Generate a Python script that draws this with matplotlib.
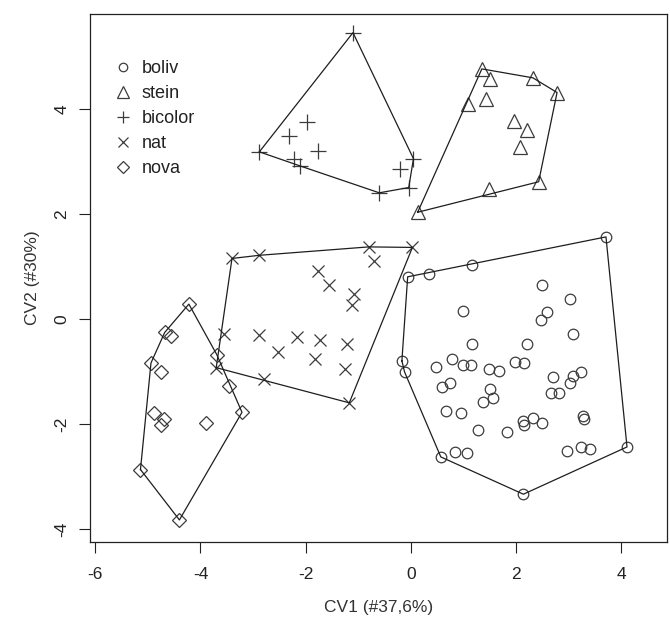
import numpy as np
import matplotlib
matplotlib.use("Agg")
from matplotlib import pyplot as plt

plt.rcParams['font.family'] = ['Liberation Sans', 'DejaVu Sans']
plt.rcParams['axes.unicode_minus'] = False

# canonical variate scores
boliv_x = [3.71, -0.06, 0.34, 1.17, 2.49, 3.02, 1.00, 2.59, 2.48, 3.09, 1.17, 2.21, -0.17,
           -0.12, 0.78, 0.48, 1.00, 1.14, 1.49, 1.68, 1.98, 2.16, 2.71, 3.09, 3.23, 3.02,
           0.59, 0.75, 1.51, 1.56, 1.37, 2.67, 2.81, 0.67, 0.96, 1.28, 1.83, 2.13, 2.16,
           2.33, 2.50, 3.28, 3.30, 0.57, 0.84, 1.07, 2.14, 2.97, 3.23, 3.41, 4.11]
boliv_y = [1.57, 0.81, 0.86, 1.03, 0.65, 0.38, 0.15, 0.14, -0.01, -0.27, -0.46, -0.46, -0.79,
           -1.00, -0.75, -0.91, -0.87, -0.87, -0.95, -0.98, -0.81, -0.84, -1.09, -1.08, -1.00,
           -1.21, -1.28, -1.21, -1.32, -1.49, -1.57, -1.41, -1.40, -1.75, -1.78, -2.11, -2.15,
           -1.94, -2.02, -1.87, -1.97, -1.84, -1.89, -2.62, -2.53, -2.54, -3.33, -2.51, -2.44,
           -2.46, -2.43]

stein_x = [1.35, 1.51, 2.32, 2.78, 1.08, 1.43, 1.97, 2.21, 2.07, 2.43, 1.48, 0.13]
stein_y = [4.77, 4.57, 4.60, 4.32, 4.10, 4.20, 3.78, 3.61, 3.29, 2.62, 2.49, 2.04]

bicolor_x = [-1.10, -2.88, -1.98, -2.31, -1.77, -2.22, -2.10, -0.60, -0.04, 0.05, -0.21]
bicolor_y = [5.46, 3.19, 3.76, 3.49, 3.21, 3.06, 2.92, 2.41, 2.51, 3.06, 2.87]

nat_x = [0.03, -0.80, -0.70, -2.88, -3.40, -1.77, -1.55, -1.08, -1.12, -3.55, -2.88, -2.17,
         -1.72, -1.21, -2.53, -1.82, -1.25, -2.80, -1.17, -3.70]
nat_y = [1.37, 1.38, 1.11, 1.22, 1.16, 0.92, 0.65, 0.48, 0.27, -0.27, -0.30, -0.34,
         -0.40, -0.46, -0.63, -0.75, -0.95, -1.14, -1.59, -0.92]

nova_x = [-4.22, -4.68, -4.56, -4.94, -4.75, -3.69, -3.45, -3.21, -4.89, -4.70, -4.75,
          -3.89, -5.14, -4.40]
nova_y = [0.29, -0.25, -0.32, -0.83, -1.00, -0.67, -1.26, -1.77, -1.79, -1.90, -2.01,
          -1.98, -2.86, -3.82]

groups = ["boliv", "stein", "bicolor", "nat", "nova"]
xs = [boliv_x, stein_x, bicolor_x, nat_x, nova_x]
ys = [boliv_y, stein_y, bicolor_y, nat_y, nova_y]
markers = ["o", "^", "+", "x", "D"]
msizes = [7.6, 10, 11, 8.5, 7.5]


def hull(px, py):
    # monotone chain convex hull, like R's chull
    pts = sorted(set(zip(px, py)))

    def cross(o, a, b):
        return (a[0] - o[0]) * (b[1] - o[1]) - (a[1] - o[1]) * (b[0] - o[0])

    lower, upper = [], []
    for p in pts:
        while len(lower) >= 2 and cross(lower[-2], lower[-1], p) <= 0:
            lower.pop()
        lower.append(p)
    for p in reversed(pts):
        while len(upper) >= 2 and cross(upper[-2], upper[-1], p) <= 0:
            upper.pop()
        upper.append(p)
    h = lower[:-1] + upper[:-1]
    h.append(h[0])
    return np.array(h)


fig = plt.figure(figsize=(6.7, 6.26), dpi=100)
ax = fig.add_axes([0.1343, 0.1342, 0.8612, 0.8434])

mcol = "#3c3c3c"
for g, x, y, m, s in zip(groups, xs, ys, markers, msizes):
    ax.plot(x, y, linestyle="none", marker=m, markersize=s, markerfacecolor="none",
            markeredgecolor=mcol, markeredgewidth=0.9, label=g)
    h = hull(x, y)
    ax.plot(h[:, 0], h[:, 1], color="#1e1e1e", linewidth=0.9)

ax.set_xlim(-6.10, 4.87)
ax.set_ylim(-4.24, 5.815)
ax.set_xticks([-6, -4, -2, 0, 2, 4])
ax.set_yticks([-4, -2, 0, 2, 4])
ax.set_yticklabels(["-4", "-2", "0", "2", "4"], rotation=90, va="center")
ax.tick_params(direction="out", length=8, width=0.8, labelsize=12.5,
               colors="#222222")
ax.tick_params(axis="x", pad=10)
ax.tick_params(axis="y", pad=7)
for sp in ax.spines.values():
    sp.set_linewidth(0.9)
    sp.set_color("#222222")

ax.set_xlabel("CV1 (#37,6%)", fontsize=12.5, color="#333333", labelpad=13)
ax.set_ylabel("CV2 (#30%)", fontsize=12.5, color="#333333", labelpad=10)

ax.legend(loc="upper left", bbox_to_anchor=(0.042, 0.913), frameon=False,
          fontsize=13, handlelength=1.0, handletextpad=0.5, labelspacing=0.45,
          borderpad=0, borderaxespad=0, labelcolor="#222222", markerscale=0.8)

fig.savefig("out.png", dpi=100)
